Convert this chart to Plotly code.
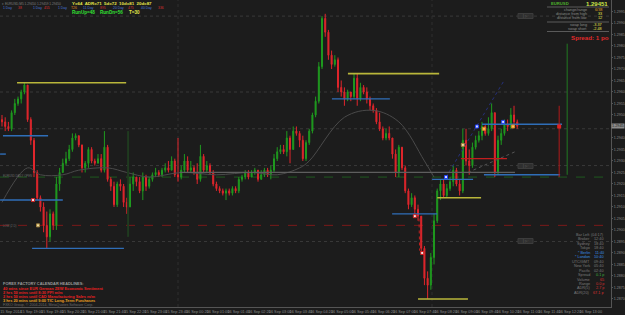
import plotly.graph_objects as go

# ---------------- data ----------------
open_first = 1.2948
close = [1.2947,1.2945,1.2944,1.2951,1.2955,1.2957,1.2960,1.2963,1.2948,1.2939,
         1.2925,1.2914,1.2910,1.2902,1.2897,1.2907,1.2902,1.2920,1.2925,1.2929,
         1.2931,1.2935,1.2940,1.2941,1.2937,1.2927,1.2929,1.2935,1.2930,1.2929,
         1.2931,1.2926,1.2936,1.2922,1.2919,1.2911,1.2920,1.2919,1.2912,1.2910,
         1.2920,1.2923,1.2921,1.2917,1.2923,1.2919,1.2922,1.2924,1.2925,1.2924,
         1.2926,1.2927,1.2926,1.2930,1.2924,1.2923,1.2926,1.2930,1.2926,1.2927,
         1.2925,1.2922,1.2932,1.2926,1.2928,1.2925,1.2920,1.2918,1.2917,1.2916,
         1.2917,1.2916,1.2918,1.2917,1.2922,1.2923,1.2925,1.2923,1.2925,1.2926,
         1.2922,1.2924,1.2926,1.2924,1.2926,1.2931,1.2934,1.2935,1.2934,1.2940,
         1.2935,1.2943,1.2942,1.2939,1.2931,1.2938,1.2943,1.2950,1.2956,1.2971,
         1.2992,1.2986,1.2976,1.2972,1.2974,1.2962,1.2960,1.2957,1.2960,1.2958,
         1.2966,1.2957,1.2962,1.2960,1.2957,1.2954,1.2952,1.2947,1.2944,1.2940,
         1.2942,1.2940,1.2933,1.2925,1.2936,1.2927,1.2917,1.2911,1.2914,1.2909,
         1.2906,1.2892,1.2879,1.2876,1.2888,1.2904,1.2917,1.2920,1.2915,1.2918,
         1.2921,1.2926,1.2920,1.2917,1.2939,1.2930,1.2928,1.2936,1.2939,1.2941,
         1.2945,1.2942,1.2944,1.2951,1.2925,1.2939,1.2942,1.2946,1.2945,1.2950,
         1.2947,1.29451]
high = [1.2950,1.2949,1.2947,1.2952,1.2957,1.2958,1.2961,1.2964,1.2963,1.2949,
        1.2940,1.2926,1.2915,1.2912,1.2908,1.2909,1.2908,1.2923,1.2927,1.2931,
        1.2934,1.2937,1.2942,1.2942,1.2941,1.2937,1.2930,1.2936,1.2936,1.2931,
        1.2933,1.2933,1.2943,1.2937,1.2923,1.2921,1.2921,1.2922,1.2920,1.2914,
        1.2923,1.2925,1.2923,1.2923,1.2925,1.2924,1.2923,1.2925,1.2927,1.2926,
        1.2927,1.2929,1.2930,1.2932,1.2931,1.2940,1.2928,1.2933,1.2932,1.2930,
        1.2928,1.2929,1.2937,1.2933,1.2930,1.2929,1.2926,1.2921,1.2919,1.2918,
        1.2918,1.2918,1.2919,1.2919,1.2923,1.2924,1.2926,1.2926,1.2926,1.2927,
        1.2926,1.2926,1.2927,1.2927,1.2928,1.2933,1.2936,1.2937,1.2937,1.2943,
        1.2941,1.2945,1.2945,1.2943,1.2941,1.2939,1.2944,1.2951,1.2958,1.2973,
        1.2993,1.2994,1.2987,1.2978,1.2976,1.2975,1.2965,1.2962,1.2961,1.2960,
        1.2968,1.2968,1.2964,1.2963,1.2962,1.2958,1.2955,1.2953,1.2951,1.2945,
        1.2944,1.2945,1.2940,1.2935,1.2937,1.2936,1.2928,1.2918,1.2916,1.2915,
        1.2911,1.2905,1.2893,1.2882,1.2890,1.2907,1.2918,1.2922,1.2922,1.2920,
        1.2923,1.2928,1.2927,1.2922,1.2944,1.2944,1.2935,1.2938,1.2941,1.2943,
        1.2947,1.2946,1.2949,1.2955,1.2951,1.2941,1.2944,1.2948,1.2948,1.2953,
        1.2954,1.2948]
low = [1.2945,1.2943,1.2943,1.2943,1.2950,1.2954,1.2955,1.2959,1.2947,1.2937,
       1.2923,1.2913,1.2908,1.2899,1.2892,1.2895,1.2900,1.2900,1.2917,1.2925,
       1.2928,1.2930,1.2934,1.2939,1.2936,1.2925,1.2925,1.2927,1.2929,1.2928,
       1.2929,1.2925,1.2925,1.2921,1.2917,1.2910,1.2910,1.2917,1.2910,1.2907,
       1.2910,1.2917,1.2919,1.2916,1.2913,1.2917,1.2918,1.2921,1.2923,1.2923,
       1.2923,1.2925,1.2925,1.2926,1.2923,1.2921,1.2922,1.2925,1.2925,1.2925,
       1.2924,1.2920,1.2921,1.2925,1.2925,1.2924,1.2919,1.2917,1.2916,1.2915,
       1.2913,1.2915,1.2915,1.2916,1.2916,1.2921,1.2922,1.2922,1.2923,1.2924,
       1.2921,1.2922,1.2923,1.2923,1.2922,1.2925,1.2930,1.2933,1.2933,1.2932,
       1.2929,1.2935,1.2941,1.2936,1.2930,1.2930,1.2937,1.2942,1.2949,1.2955,
       1.2970,1.2984,1.2974,1.2970,1.2971,1.2960,1.2958,1.2954,1.2956,1.2956,
       1.2957,1.2954,1.2956,1.2959,1.2955,1.2952,1.2951,1.2946,1.2943,1.2939,
       1.2939,1.2939,1.2931,1.2923,1.2923,1.2926,1.2916,1.2909,1.2910,1.2907,
       1.2904,1.2890,1.2876,1.2870,1.2874,1.2885,1.2903,1.2913,1.2914,1.2914,
       1.2917,1.2919,1.2919,1.2915,1.2916,1.2928,1.2924,1.2927,1.2935,1.2938,
       1.2939,1.2941,1.2941,1.2943,1.2923,1.2924,1.2937,1.2941,1.2943,1.2944,
       1.2946,1.2944]
bars = list(range(len(close)))
opens = [open_first] + close[:-1]

# moving-average curve (bar index, price)
ma_bar = [0, 8, 12, 19, 24, 33, 39, 46, 56, 67, 78, 86, 93, 96, 107, 116, 124, 132, 135]
ma_val = [1.2912, 1.2927, 1.2924, 1.2924, 1.2926, 1.2927, 1.2925, 1.2923, 1.2925, 1.2924,
          1.2925, 1.2924, 1.2927, 1.2930, 1.2949, 1.2952, 1.2947, 1.2930, 1.2923]

# horizontal level segments: (price, from bar, to bar)
blue_lvl = [1.2941, 1.2913, 1.2933, 1.2892, 1.2957, 1.2907, 1.2922, 1.2924, 1.2946]
blue_from = [0.3, -0.6, -0.6, 9.4, 103.1, 121.9, 134.4, 150.6, 150.0]
blue_to = [14.4, 19.0, 1.2, 38.1, 121.2, 136.0, 147.2, 174.4, 175.0]
yellow_lvl = [1.2964, 1.2968, 1.2870, 1.2914]
yellow_from = [4.7, 108.1, 130.0, 136.0]
yellow_to = [38.8, 136.6, 145.6, 149.7]
red_lvl = [1.2931]
red_from = [143.4]
red_to = [157.8]
gray_lvl = [1.2925]
gray_from = [55.6]
gray_to = [160.3]

# full-width levels
red_dash_lvl = 1.2902
green_dash_lvl = 1.2923
dotted_lvls = [1.2993, 1.2960, 1.2944, 1.2928, 1.2895]

# arrow markers: (bar, price)
mk_white_bar = [9.7, 129.0, 131.3]
mk_white_val = [1.2913, 1.2906, 1.2890]
mk_yel_bar = [11.25, 144.0]
mk_yel_val = [1.2902, 1.2937]
mk_blue_bar = [138.75, 148.4, 156.6]
mk_blue_val = [1.2923, 1.2945, 1.2947]
mk_orange_bar = [150.6, 159.7]
mk_orange_val = [1.2944, 1.2945]

current_price = 1.29451

y_ticks = [1.2995, 1.2990, 1.2985, 1.2980, 1.2975, 1.2970, 1.2965, 1.2960, 1.2955, 1.2950,
           1.2940, 1.2935, 1.2930, 1.2925, 1.2920, 1.2915, 1.2910, 1.2905, 1.2900, 1.2895,
           1.2890, 1.2885, 1.2880, 1.2875, 1.2870]
y_tick_text = ["%.4f" % v for v in y_ticks]

x_tick_text = ["15 Sep 2014", "15 Sep 19:00", "15 Sep 19:40", "15 Sep 20:20", "15 Sep 21:00",
               "15 Sep 21:40", "15 Sep 22:20", "15 Sep 23:00", "15 Sep 23:40", "16 Sep 00:20",
               "16 Sep 01:00", "16 Sep 01:40", "16 Sep 02:20", "16 Sep 03:00", "16 Sep 03:40",
               "16 Sep 04:20", "16 Sep 05:00", "16 Sep 05:40", "16 Sep 06:20", "16 Sep 07:00",
               "16 Sep 07:40", "16 Sep 08:20", "16 Sep 09:00", "16 Sep 09:40", "16 Sep 10:20",
               "16 Sep 11:00", "16 Sep 11:40", "16 Sep 12:20", "16 Sep 13:00"]
x_tick_bar = [2.8 + 6.47 * k for k in range(len(x_tick_text))]

# ---------------- figure ----------------
W, H = 625, 315
ML, MR, MT, MB = 0, 14, 0, 8
PW, PH = W - ML - MR, H - MT - MB
FONT = "Liberation Sans, Arial, sans-serif"
BG = "#1c1c1c"

fig = go.Figure()

def seg_trace(lvls, x0s, x1s, color, width=1.4, dash="solid"):
    xs, ys = [], []
    for v, a, b in zip(lvls, x0s, x1s):
        xs += [a, b, None]
        ys += [v, v, None]
    fig.add_trace(go.Scatter(x=xs, y=ys, mode="lines",
                             line=dict(color=color, width=width, dash=dash),
                             hoverinfo="skip", showlegend=False))

# MA line
fig.add_trace(go.Scatter(x=ma_bar, y=ma_val, mode="lines", line=dict(color="#4a4a4a", width=1, shape="spline"),
                         hoverinfo="skip", showlegend=False))
# dotted trend helpers
fig.add_trace(go.Scatter(x=[145.6, 160.3], y=[1.2925, 1.2934], mode="lines",
                         line=dict(color="#555555", width=1, dash="dot"), hoverinfo="skip", showlegend=False))
fig.add_trace(go.Scatter(x=[138.75, 156.9], y=[1.2923, 1.2965], mode="lines",
                         line=dict(color="#26307a", width=1, dash="dot"), hoverinfo="skip", showlegend=False))
fig.add_trace(go.Scatter(x=[130.3, 130.5], y=[1.2905, 1.2891], mode="lines",
                         line=dict(color="#c02020", width=1, dash="dot"), hoverinfo="skip", showlegend=False))
# dim green vertical marker
fig.add_trace(go.Scatter(x=[39.4, 39.4], y=[1.2943, 1.2897], mode="lines",
                         line=dict(color="#1f3a1f", width=2), hoverinfo="skip", showlegend=False))

seg_trace(gray_lvl, gray_from, gray_to, "#5e5e5e", 1.2)

fig.add_trace(go.Candlestick(
    x=bars, open=opens, high=high, low=low, close=close,
    increasing=dict(line=dict(color="#1f9a1f", width=1), fillcolor="#1f9a1f"),
    decreasing=dict(line=dict(color="#e0262c", width=1), fillcolor="#e0262c"),
    whiskerwidth=0, hoverinfo="skip", showlegend=False))

seg_trace(blue_lvl, blue_from, blue_to, "#2f6eb8", 1.4)
seg_trace(yellow_lvl, yellow_from, yellow_to, "#b9b63a", 1.6)
seg_trace(red_lvl, red_from, red_to, "#c21e1e", 1.2)

# red vertical + square, green vertical (future side)
fig.add_trace(go.Scatter(x=[174.1, 174.1], y=[1.2954, 1.2923], mode="lines",
                         line=dict(color="#b01a1a", width=1), hoverinfo="skip", showlegend=False))
fig.add_trace(go.Scatter(x=[174.1], y=[1.2945], mode="markers",
                         marker=dict(symbol="square", size=4, color="#e02020"), hoverinfo="skip", showlegend=False))
fig.add_trace(go.Scatter(x=[176.6, 176.6], y=[1.2981, 1.2924], mode="lines",
                         line=dict(color="#227a22", width=1), hoverinfo="skip", showlegend=False))

for bx, by, col, lc in [(mk_white_bar, mk_white_val, "#f2e6e6", "#d02020"),
                        (mk_yel_bar, mk_yel_val, "#f0e0a0", "#a08040"),
                        (mk_blue_bar, mk_blue_val, "#d8e0ff", "#2040ff"),
                        (mk_orange_bar, mk_orange_val, "#f0c060", "#e08020")]:
    fig.add_trace(go.Scatter(x=bx, y=by, mode="markers",
                             marker=dict(symbol="square", size=3, color=col, line=dict(color=lc, width=1)),
                             hoverinfo="skip", showlegend=False))

shapes = []
for v in dotted_lvls:
    shapes.append(dict(type="line", xref="paper", yref="y", x0=0, x1=1, y0=v, y1=v,
                       line=dict(color="#3a3a3a", width=1, dash="dot"), layer="below"))
shapes.append(dict(type="line", xref="paper", yref="y", x0=0, x1=1, y0=red_dash_lvl, y1=red_dash_lvl,
                   line=dict(color="#7a1a1a", width=1, dash="dash"), layer="below"))
shapes.append(dict(type="line", xref="paper", yref="y", x0=0, x1=1, y0=green_dash_lvl, y1=green_dash_lvl,
                   line=dict(color="#1f5a1f", width=1, dash="dash"), layer="below"))
for xv in [178, 432]:
    shapes.append(dict(type="line", xref="paper", yref="paper", x0=xv / PW, x1=xv / PW, y0=0, y1=1,
                       line=dict(color="#2e2e2e", width=1, dash="dot"), layer="below"))

def pxx(x):
    return (x - ML) / PW

def pxy(y):
    return 1 - (y - MT) / PH

# small level tags at right side
for yy in [16, 166, 241]:
    shapes.append(dict(type="rect", xref="paper", yref="paper", x0=pxx(518), x1=pxx(533),
                       y0=pxy(yy + 2.5), y1=pxy(yy - 2.5), fillcolor="#2f2f2f",
                       line=dict(color="#3c3c3c", width=1)))
# top-right panel separators
for yy in [7, 22, 31.5]:
    shapes.append(dict(type="line", xref="paper", yref="paper", x0=pxx(547), x1=pxx(609),
                       y0=pxy(yy), y1=pxy(yy), line=dict(color="#5a5a5a", width=1)))

ann = []

def txt(x, y, text, color, size=4, anchor="left", bold=False, bg=None):
    t = "<b>%s</b>" % text if bold else text
    d = dict(xref="paper", yref="paper", x=pxx(x), y=pxy(y), text=t, showarrow=False,
             xanchor=anchor, yanchor="middle", borderpad=0,
             font=dict(size=size, color=color, family=FONT))
    if bg:
        d["bgcolor"] = bg
    ann.append(d)

# top-left header
txt(1, 3.7, "▾ EURUSD,M5 1.29450 1.29459 1.29450", "#7c7c7c", 3.2)
txt(71, 3.7, "Y=64  ADR=71  5d=72  10d=81  20d=87", "#e6e64a", 4.4, bold=True)
row2 = [(2, "1 Day", "#4a78d8"), (17, "38", "#d83030"), (32, "1 Day", "#4a78d8"), (43, "455", "#d83030"),
        (57, "1 Day", "#4a78d8"), (70, "T26", "#e08a20"), (82, "11 Day", "#4a78d8"), (99, "895", "#d83030"),
        (112, "20 Day", "#4a78d8"), (127, "475", "#d83030"), (140, "40 Day", "#4a78d8"), (157, "336", "#d83030")]
for x, t, c in row2:
    txt(x, 7.6, t, c, 3.4)
txt(71, 12.3, "RunUp=48", "#33e033", 4.6, bold=True)
txt(99, 12.3, "RunDn=56", "#33e033", 4.6, bold=True)
txt(128, 12.3, "T=30", "#e6e64a", 4.6, bold=True)

# top-right panel
txt(550, 3.8, "EURUSD", "#4caf2c", 4.2, bold=True)
txt(609, 3.8, "1.29451", "#cde64a", 6, anchor="right", bold=True)
txt(588, 10, "change/range", "#8a8a8a", 3.8, anchor="right")
txt(588, 14, "distance from high", "#8a8a8a", 3.8, anchor="right")
txt(588, 18, "distance from low", "#8a8a8a", 3.8, anchor="right")
txt(603, 10, "6/38", "#e0a020", 3.8, anchor="right")
txt(603, 14, "33", "#e6e64a", 3.8, anchor="right")
txt(603, 18, "12", "#e6e64a", 3.8, anchor="right")
txt(588, 24.5, "swap long", "#8a8a8a", 3.8, anchor="right")
txt(588, 28.5, "swap short", "#8a8a8a", 3.8, anchor="right")
txt(603, 24.5, "-3.37", "#e6e64a", 3.8, anchor="right")
txt(603, 28.5, "-2.48", "#e6e64a", 3.8, anchor="right")
txt(610, 37.5, "Spread: 1 po", "#e02a2a", 6.2, anchor="right", bold=True)

# level tag texts
for yy in [16, 166, 241]:
    txt(525.5, yy, "| ▷ ·", "#777777", 3, anchor="center")
txt(2, 176, "EURUSD DAILY OPEN", "#6a6a6a", 2.8)
txt(2, 226, "LOW (2 D)", "#6a6a6a", 2.8)

# bottom-left news
txt(2, 283.3, "FOREX FACTORY CALENDAR HEADLINES:", "#9a9a9a", 3.9, bold=True)
txt(2, 288.2, "40 mins since EUR German ZEW Economic Sentiment", "#e82020", 3.9, bold=True)
txt(2, 292.4, "2 hrs 50 mins until 8:30 PPI m/m", "#e82020", 3.9, bold=True)
txt(2, 296.7, "2 hrs 50 mins until CAD Manufacturing Sales m/m", "#e82020", 3.9, bold=True)
txt(2, 300.8, "3 hrs 20 mins until 9:00 TIC Long-Term Purchases", "#e8a020", 3.9, bold=True)
txt(2, 305, "FXKO Group, © 2004-2014, MetaQuotes Software Corp.", "#6a6a6a", 3.6)

# bottom-right info panel
info = [("Bar Left", "(04:17)", "#7a7a7a", "#7a7a7a"), ("Broker", "12:40", "#7a7a7a", "#7a7a7a"),
        ("Sydney", "18:40", "#7a7a7a", "#7a7a7a"), ("Tokyo", "18:40", "#7a7a7a", "#7a7a7a"),
        ("* Berlin", "11:40", "#3a8ee0", "#3a8ee0"), ("* London", "10:40", "#3a8ee0", "#3a8ee0"),
        ("UTC/GMT", "09:40", "#7a7a7a", "#7a7a7a"), ("New York", "05:40", "#7a7a7a", "#7a7a7a"),
        ("Pacific", "02:40", "#7a7a7a", "#7a7a7a"), ("Spread", "0.1 p", "#7a7a7a", "#3fae3f"),
        ("Volume", "65", "#7a7a7a", "#d83030"), ("Range", "0.0 p", "#7a7a7a", "#d83030"),
        ("ADR(5)", "2.7 p", "#7a7a7a", "#d83030"), ("ADR(20)", "67.1 p", "#7a7a7a", "#d83030")]
for k, (lab, val, lc, vc) in enumerate(info):
    yy = 235 + 4.45 * k
    txt(591, yy, lab, lc, 3.8, anchor="right")
    txt(605, yy, val, vc, 3.8, anchor="right")

# current price tag on the axis
ann.append(dict(xref="paper", yref="y", x=1.0, y=current_price, text="1.2945", showarrow=False,
                xanchor="left", yanchor="middle", bgcolor="#8c8c8c", borderpad=0,
                font=dict(size=3.8, color="#1c1c1c", family=FONT)))

fig.update_layout(
    width=W, height=H, margin=dict(l=ML, r=MR, t=MT, b=MB, pad=0),
    paper_bgcolor=BG, plot_bgcolor=BG, hovermode=False, showlegend=False,
    shapes=shapes, annotations=ann, boxgap=0.55,
    xaxis=dict(range=[-0.625, 190.3], rangeslider=dict(visible=False), showgrid=False, zeroline=False,
               tickmode="array", tickvals=x_tick_bar, ticktext=x_tick_text,
               tickfont=dict(size=3.8, color="#8a8a8a", family=FONT), ticks="", ticklen=0,
               showline=True, linecolor="#555555", linewidth=1, tickangle=0, automargin=False),
    yaxis=dict(range=[1.28665, 1.3000], side="right", showgrid=False, zeroline=False,
               tickmode="array", tickvals=y_ticks, ticktext=y_tick_text,
               tickfont=dict(size=3.6, color="#8a8a8a", family=FONT), ticks="outside", ticklen=1,
               tickcolor="#555555", showline=True, linecolor="#555555", linewidth=1, automargin=False),
)

fig.write_html("out.html")
